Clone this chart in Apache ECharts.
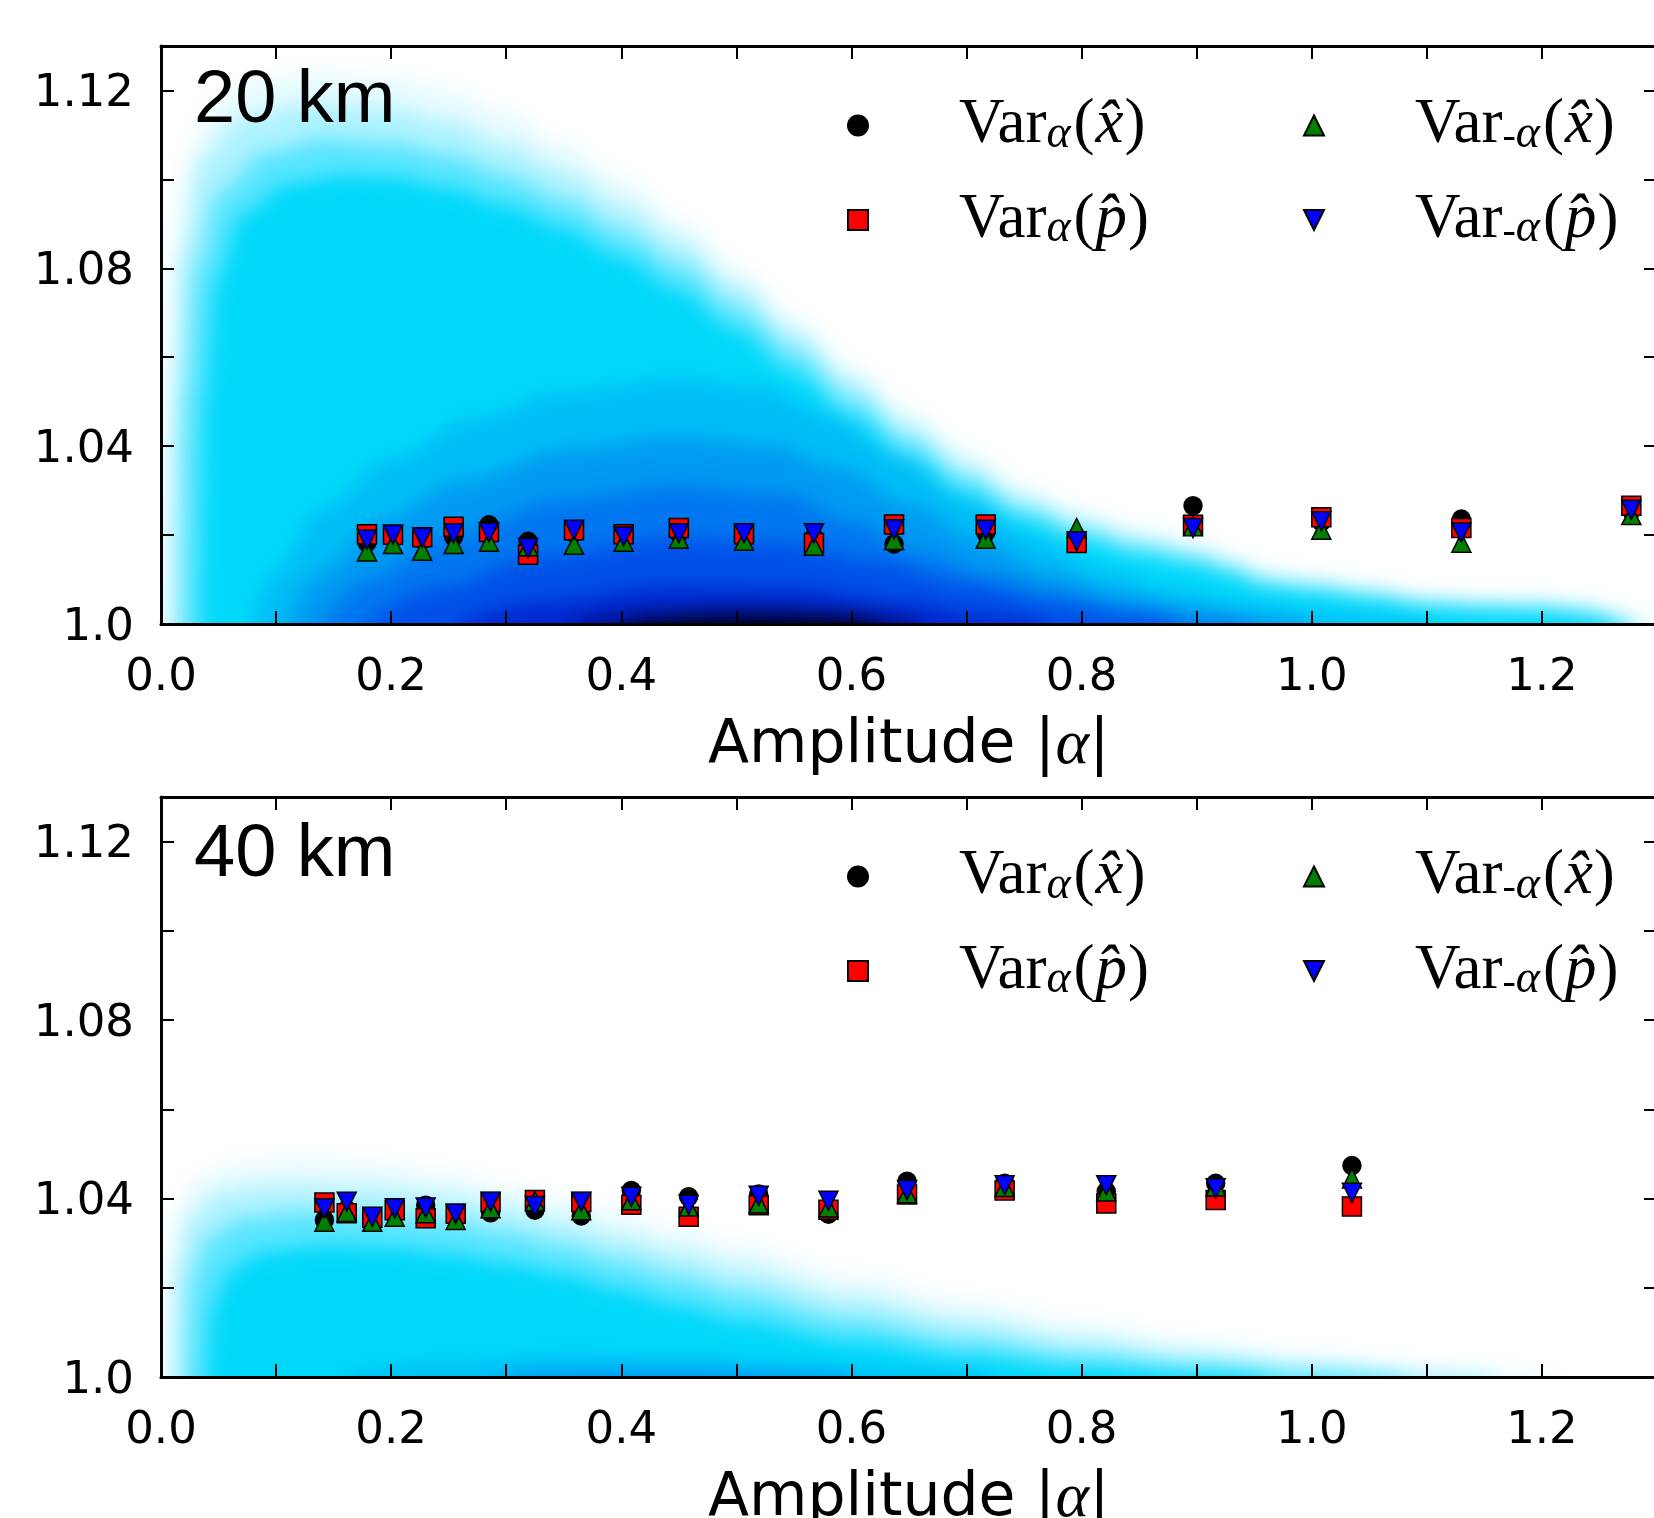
<!DOCTYPE html>
<html><head><meta charset="utf-8">
<script src="https://cdn.jsdelivr.net/npm/echarts@6/dist/echarts.min.js"></script>
<style>
html,body{margin:0;padding:0;background:#fff}
#bg{position:absolute;left:0;top:0;width:1654px;height:1518px;filter:blur(10px);
  clip-path:polygon(161px 46px,1654px 46px,1654px 624px,161px 624px,161px 797px,1654px 797px,1654px 1377px,161px 1377px);}
#c{position:absolute;left:0;top:0;width:1654px;height:1518px}
</style>
</head><body><div id="bg"></div><div id="c"></div>
<script>
// ---------- marker data ----------
const topX = [0.179,0.2016,0.227,0.2543,0.285,0.319,0.3589,0.402,0.450,0.5066,0.5674,0.637,0.7166,0.7957,0.8968,1.0083,1.130,1.2777];
const topK = [1.0183,1.0196,1.0190,1.0196,1.0223,1.0186,1.0205,1.0195,1.0205,1.0200,1.0195,1.0180,1.0205,1.0195,1.0266,1.0230,1.0236,1.0255];
const topR = [1.0202,1.0201,1.0195,1.0219,1.0207,1.0156,1.0211,1.0202,1.0216,1.0202,1.0182,1.0224,1.0224,1.0182,1.0223,1.0240,1.0216,1.0266];
const topG = [1.0163,1.0180,1.0165,1.0180,1.0185,1.0175,1.0178,1.0185,1.0192,1.0187,1.0176,1.0189,1.0192,1.0216,1.0220,1.0212,1.0183,1.0245];
const topB = [1.0190,1.0201,1.0194,1.0204,1.0206,1.0171,1.0212,1.0197,1.0204,1.0204,1.0204,1.0213,1.0212,1.0186,1.0216,1.0231,1.0206,1.0257];

const botX = [0.142,0.1614,0.1836,0.2031,0.2300,0.2561,0.2864,0.3249,0.3652,0.4087,0.4585,0.5194,0.580,0.6483,0.7331,0.8214,0.9165,1.0349];
const botK = [1.0352,1.0375,1.0355,1.0372,1.0385,1.0362,1.0368,1.0374,1.0361,1.0418,1.0404,1.0410,1.0365,1.0439,1.0434,1.0416,1.0434,1.0474];
const botR = [1.0391,1.0367,1.0357,1.0374,1.0356,1.0366,1.0392,1.0397,1.0392,1.0386,1.0359,1.0385,1.0375,1.0409,1.0418,1.0389,1.0397,1.0382];
const botG = [1.0348,1.0370,1.0348,1.0359,1.0367,1.0352,1.0378,1.0394,1.0374,1.0396,1.0382,1.0389,1.0380,1.0412,1.0426,1.0416,1.0427,1.0445];
const botB = [1.0378,1.0393,1.0359,1.0378,1.0380,1.0366,1.0393,1.0383,1.0393,1.0404,1.0386,1.0406,1.0395,1.0419,1.0430,1.0430,1.0423,1.0413];

// ---------- density background: level boundaries ----------
const topLevel1 = [[0.003,1.0],[0.005,1.04],[0.01,1.08],[0.022,1.104],[0.045,1.117],[0.08,1.1225],[0.13,1.124],[0.2,1.123],[0.25,1.120],[0.3,1.115],[0.35,1.108],[0.4,1.100],[0.45,1.091],[0.5,1.080],[0.55,1.069],[0.6,1.058],[0.65,1.048],[0.7,1.039],[0.75,1.031],[0.8,1.0255],[0.85,1.0215],[0.9,1.0185],[0.93,1.0155],[0.96,1.0122],[1.0,1.0108],[1.05,1.0088],[1.1,1.0066],[1.15,1.0058],[1.2,1.0055],[1.24,1.0046],[1.27,1.0025],[1.295,1.0]];
const topLevel2 = [[0.008,1.0],[0.01,1.05],[0.018,1.085],[0.035,1.105],[0.07,1.114],[0.13,1.117],[0.2,1.116],[0.25,1.113],[0.3,1.108],[0.35,1.102],[0.4,1.0945],[0.45,1.0865],[0.5,1.0765],[0.55,1.066],[0.6,1.055],[0.65,1.045],[0.7,1.036],[0.75,1.0285],[0.8,1.0235],[0.85,1.0195],[0.9,1.0168],[0.93,1.014],[0.96,1.0108],[1.0,1.0095],[1.05,1.0077],[1.1,1.0056],[1.15,1.0049],[1.2,1.0046],[1.24,1.0038],[1.265,1.002],[1.285,1.0]];
const topLevel3 = [[0.018,1.0],[0.02,1.05],[0.03,1.08],[0.05,1.097],[0.09,1.106],[0.14,1.109],[0.2,1.108],[0.25,1.1055],[0.3,1.101],[0.35,1.0955],[0.4,1.0885],[0.45,1.081],[0.5,1.0715],[0.55,1.0615],[0.6,1.051],[0.65,1.0415],[0.7,1.033],[0.75,1.026],[0.8,1.0212],[0.85,1.0175],[0.9,1.015],[0.93,1.0125],[0.96,1.0095],[1.0,1.0083],[1.05,1.0066],[1.1,1.0047],[1.15,1.0041],[1.2,1.0038],[1.24,1.003],[1.26,1.0015],[1.275,1.0]];
const topLevel4 = [[0.035,1.0],[0.038,1.05],[0.048,1.077],[0.07,1.092],[0.11,1.099],[0.16,1.101],[0.2,1.1005],[0.25,1.098],[0.3,1.094],[0.35,1.089],[0.4,1.0825],[0.45,1.075],[0.5,1.066],[0.55,1.0565],[0.6,1.0465],[0.65,1.0375],[0.7,1.0295],[0.75,1.0235],[0.8,1.019],[0.85,1.0155],[0.9,1.0132],[0.93,1.011],[0.96,1.0083],[1.0,1.0072],[1.05,1.0056],[1.1,1.004],[1.15,1.0034],[1.2,1.003],[1.23,1.0022],[1.25,1.001],[1.265,1.0]];
const topLevel5 = [[0.08,1.0],[0.1,1.012],[0.14,1.026],[0.2,1.037],[0.27,1.046],[0.35,1.052],[0.45,1.055],[0.52,1.053],[0.58,1.047],[0.64,1.038],[0.7,1.028],[0.76,1.019],[0.82,1.012],[0.88,1.0075],[0.94,1.0045],[1.0,1.0025],[1.06,1.001],[1.1,1.0]];
const topLevel6 = [[0.11,1.0],[0.14,1.012],[0.19,1.023],[0.26,1.032],[0.35,1.039],[0.45,1.042],[0.53,1.040],[0.59,1.035],[0.65,1.027],[0.71,1.019],[0.77,1.012],[0.83,1.007],[0.9,1.0035],[0.96,1.0015],[1.0,1.0]];
const topLevel7 = [[0.14,1.0],[0.18,1.01],[0.25,1.02],[0.35,1.028],[0.45,1.031],[0.54,1.029],[0.6,1.023],[0.66,1.016],[0.72,1.011],[0.78,1.007],[0.85,1.0035],[0.92,1.001],[0.95,1.0]];
const topLevel8 = [[0.18,1.0],[0.24,1.008],[0.33,1.015],[0.44,1.019],[0.54,1.018],[0.62,1.014],[0.7,1.009],[0.77,1.005],[0.84,1.002],[0.88,1.0]];
const topLevel9 = [[0.26,1.0],[0.33,1.005],[0.44,1.0085],[0.55,1.008],[0.64,1.005],[0.72,1.002],[0.77,1.0]];
const topLevel10 = [[0.36,1.0],[0.43,1.0025],[0.52,1.0035],[0.6,1.0025],[0.66,1.0]];
const topLevel11 = [[0.41,1.0],[0.48,1.0015],[0.56,1.0015],[0.62,1.0]];

const botLevel1 = [[0.003,1.0],[0.005,1.02],[0.012,1.036],[0.03,1.0445],[0.07,1.048],[0.12,1.0485],[0.18,1.048],[0.25,1.0455],[0.3,1.0425],[0.35,1.0395],[0.4,1.0362],[0.45,1.033],[0.5,1.0295],[0.6,1.0225],[0.7,1.017],[0.8,1.012],[0.9,1.008],[1.0,1.0048],[1.1,1.0022],[1.17,1.0008],[1.21,1.0]];
const botLevel2 = [[0.01,1.0],[0.013,1.025],[0.025,1.036],[0.05,1.0415],[0.1,1.043],[0.18,1.0425],[0.25,1.0405],[0.3,1.038],[0.35,1.035],[0.4,1.0315],[0.45,1.028],[0.5,1.0245],[0.6,1.018],[0.7,1.0128],[0.8,1.0085],[0.9,1.0052],[1.0,1.0028],[1.1,1.001],[1.16,1.0]];
const botLevel3 = [[0.022,1.0],[0.026,1.022],[0.04,1.031],[0.07,1.0355],[0.12,1.037],[0.18,1.0365],[0.25,1.0348],[0.3,1.0325],[0.35,1.0295],[0.4,1.026],[0.45,1.0225],[0.5,1.019],[0.6,1.013],[0.7,1.0085],[0.8,1.005],[0.9,1.0028],[1.0,1.0012],[1.08,1.0]];
const botLevel4 = [[0.04,1.0],[0.045,1.016],[0.06,1.024],[0.09,1.028],[0.14,1.0295],[0.2,1.029],[0.25,1.0275],[0.3,1.0255],[0.35,1.023],[0.4,1.0195],[0.45,1.016],[0.5,1.0128],[0.6,1.008],[0.7,1.0045],[0.8,1.0022],[0.9,1.0008],[0.96,1.0]];
const botLevel5 = [[0.16,1.0],[0.25,1.003],[0.35,1.0045],[0.45,1.004],[0.55,1.0028],[0.65,1.0012],[0.72,1.0]];
const botLevel6 = [[0.3,1.0],[0.38,1.0015],[0.47,1.0016],[0.55,1.0008],[0.6,1.0]];

const levelColors = ['#e6fbff','#aef2ff','#58e5ff','#00d8fa','#00bdf6','#009af2','#0076f0','#0050e8','#0028d0','#000a80','#000018'];

const xTicks = [0.0,0.2,0.4,0.6,0.8,1.0,1.2];
const yTicks = [1.0,1.04,1.08,1.12];

const NAME_K = 'Var_α(x̂)', NAME_R = 'Var_α(p̂)', NAME_G = 'Var_-α(x̂)', NAME_B = 'Var_-α(p̂)';

// ---------- background density (separate layer, softened with a CSS blur) ----------
const bg = echarts.init(document.getElementById('bg'), null, {renderer:'canvas', width:1654, height:1518});
function band(data, color, xi, yi) {
  return {type:'line', xAxisIndex:xi, yAxisIndex:yi, data:data, smooth:0.35, smoothMonotone:'x',
    symbol:'none', showSymbol:false, silent:true, clip:true, animation:false, z:1,
    lineStyle:{width:0, opacity:0},
    areaStyle:{color:color, opacity:1, origin:'start'}};
}
const bgSeries = [];
[topLevel1,topLevel2,topLevel3,topLevel4,topLevel5,topLevel6,topLevel7,topLevel8,topLevel9,topLevel10,topLevel11]
  .forEach((d,i)=>bgSeries.push(band(d, levelColors[i], 0, 0)));
[botLevel1,botLevel2,botLevel3,botLevel4,botLevel5,botLevel6]
  .forEach((d,i)=>bgSeries.push(band(d, levelColors[i], 1, 1)));
// the background grids reach a bit below 1.0 so the blur does not wash out the base
const bgBase = 0.985;
bg.setOption({
  animation:false,
  grid:[
    {left:161, top:46, width:1496, height:(1.13-bgBase)*578/0.13, outerBoundsMode:'none', containLabel:false},
    {left:161, top:797, width:1496, height:(1.13-bgBase)*580/0.13, outerBoundsMode:'none', containLabel:false}
  ],
  xAxis:[{type:'value', gridIndex:0, min:0, max:1.3, show:false},{type:'value', gridIndex:1, min:0, max:1.3, show:false}],
  yAxis:[{type:'value', gridIndex:0, min:bgBase, max:1.13, show:false},{type:'value', gridIndex:1, min:bgBase, max:1.13, show:false}],
  series:bgSeries
});

// ---------- main chart ----------
const chart = echarts.init(document.getElementById('c'), null, {renderer:'canvas', width:1654, height:1518});
const TRI_DOWN = 'path://M0,0 L10,0 L5,10 Z';
function scat(name, xs, ys, symbol, color, xi, yi, size) {
  return {type:'scatter', name:name, xAxisIndex:xi, yAxisIndex:yi, animation:false, z:5,
    data: xs.map((x,i)=>[x, ys[i]]), symbol:symbol, symbolSize:size,
    itemStyle:{color:color, borderColor:'#000', borderWidth:1.5, opacity:1}};
}
const series = [
  scat(NAME_K, topX, topK, 'circle', '#000000', 0, 0, 18),
  scat(NAME_R, topX, topR, 'rect', '#ff0000', 0, 0, 19),
  scat(NAME_G, topX, topG, 'triangle', '#007f00', 0, 0, 19),
  scat(NAME_B, topX, topB, TRI_DOWN, '#0000ff', 0, 0, 19),
  scat(NAME_K, botX, botK, 'circle', '#000000', 2, 2, 18),
  scat(NAME_R, botX, botR, 'rect', '#ff0000', 2, 2, 19),
  scat(NAME_G, botX, botG, 'triangle', '#007f00', 2, 2, 19),
  scat(NAME_B, botX, botB, TRI_DOWN, '#0000ff', 2, 2, 19)
];

function xfmt(v){ const t=xTicks.find(a=>Math.abs(a-v)<1e-6); return t===undefined? '' : t.toFixed(1); }
function yfmt(v){ const t=yTicks.find(a=>Math.abs(a-v)<1e-6); if(t===undefined) return ''; return '{t|' + (t===1.0 ? '1.0' : t.toFixed(2)) + '}'; }

const tickStyle = {inside:true, length:13, lineStyle:{color:'#000', width:2}};
const lineStyle = {show:true, onZero:false, lineStyle:{color:'#000', width:3}};
const labelFont = {fontFamily:'DejaVu Sans', fontSize:45, color:'#000'};

function xAxes(gi) {
  return [
    {type:'value', gridIndex:gi, position:'bottom', min:0, max:1.3, interval:0.1,
     axisLine:lineStyle, axisTick:tickStyle, splitLine:{show:false},
     axisLabel:Object.assign({margin:32, formatter:xfmt, showMaxLabel:false}, labelFont),
     name:'{a|Amplitude }{b||}{c|α}{b||}', nameLocation:'middle', nameGap:90,
     nameTextStyle:{rich:{
       a:{fontFamily:'DejaVu Sans', fontSize:60, color:'#000'},
       b:{fontFamily:'DejaVu Serif', fontSize:62, color:'#000'},
       c:{fontFamily:'Liberation Serif', fontStyle:'italic', fontSize:64, color:'#000'}}}},
    {type:'value', gridIndex:gi, position:'top', min:0, max:1.3, interval:0.1,
     axisLine:lineStyle, axisTick:tickStyle, splitLine:{show:false}, axisLabel:{show:false}}
  ];
}
function yAxes(gi) {
  return [
    {type:'value', gridIndex:gi, position:'left', min:1.0, max:1.13, interval:0.02,
     axisLine:lineStyle, axisTick:tickStyle, splitLine:{show:false},
     axisLabel:Object.assign({margin:27, formatter:yfmt,
       rich:{t:{fontFamily:'DejaVu Sans', fontSize:45, color:'#000', padding:[8,0,0,0]}}}, labelFont)},
    {type:'value', gridIndex:gi, position:'right', min:1.0, max:1.13, interval:0.02,
     axisLine:lineStyle, axisTick:tickStyle, splitLine:{show:false}, axisLabel:{show:false}}
  ];
}

const legendRich = {
  g:{width:86},
  v:{fontFamily:'Liberation Serif', fontSize:63, lineHeight:64, color:'#000'},
  m:{fontFamily:'Liberation Serif', fontSize:40, lineHeight:40, verticalAlign:'bottom', color:'#000'},
  s:{fontFamily:'Liberation Serif', fontStyle:'italic', fontSize:46, lineHeight:38, verticalAlign:'bottom', color:'#000', padding:[0,2,0,0]},
  p:{fontFamily:'Liberation Serif', fontSize:63, lineHeight:64, color:'#000', padding:[0,1,0,1]},
  i:{fontFamily:'Liberation Serif', fontStyle:'italic', fontSize:63, lineHeight:64, color:'#000'}
};
function legFmt(name){
  const minus = name.indexOf('-α')>=0;
  const arg = name.indexOf('x̂')>=0 ? 'x̂' : 'p̂';
  return '{g| }{v|Var}' + (minus ? '{m|-}' : '') + '{s|α}{p|(}{i|' + arg + '}{p|)}';
}
function legend(names, left, top) {
  return {data:names, orient:'vertical', left:left, top:top, padding:0, itemWidth:20, itemHeight:20, itemGap:31,
    selectedMode:false, formatter:legFmt, textStyle:{rich:legendRich}};
}

chart.setOption({
  animation:false,
  backgroundColor:'rgba(0,0,0,0)',
  title:[
    {text:'20 km', left:194, top:65, padding:0, textStyle:{fontFamily:'Liberation Sans', fontSize:74, fontWeight:'normal', color:'#000'}},
    {text:'40 km', left:194, top:819, padding:0, textStyle:{fontFamily:'Liberation Sans', fontSize:74, fontWeight:'normal', color:'#000'}}
  ],
  legend:[
    legend([NAME_K, NAME_R], 847, 94), legend([NAME_G, NAME_B], 1303, 94),
    legend([NAME_K, NAME_R], 847, 845), legend([NAME_G, NAME_B], 1303, 845)
  ],
  grid:[
    {left:161, top:46, width:1496, height:578, outerBoundsMode:'none', containLabel:false},
    {left:161, top:797, width:1496, height:580, outerBoundsMode:'none', containLabel:false}
  ],
  xAxis: xAxes(0).concat(xAxes(1)),
  yAxis: yAxes(0).concat(yAxes(1)),
  series: series
});
</script></body></html>
